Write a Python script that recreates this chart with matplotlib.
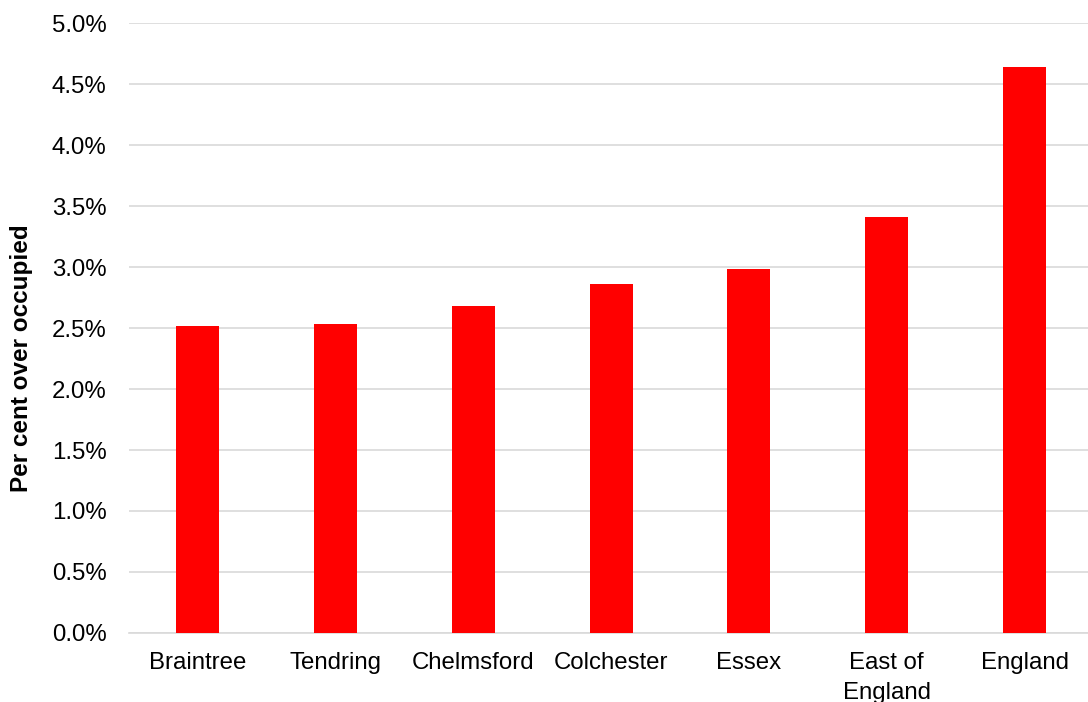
import numpy as np
import matplotlib.pyplot as plt
from matplotlib.ticker import FuncFormatter

# values
areas = ['Braintree', 'Tendring', 'Chelmsford', 'Colchester', 'Essex',
         'East of\nEngland', 'England']
over_occupied = [2.52, 2.53, 2.68, 2.86, 2.98, 3.41, 4.64]
y_ticks = [0.0, 0.5, 1.0, 1.5, 2.0, 2.5, 3.0, 3.5, 4.0, 4.5, 5.0]

plt.rcParams['font.family'] = ['Liberation Sans', 'DejaVu Sans']

fig = plt.figure(figsize=(10.88, 7.02), dpi=100)
ax = fig.add_axes([0.1182, 0.0983, 0.8868, 0.8689])

x = np.arange(len(areas))
ax.bar(x, over_occupied, width=0.312, color='#ff0000', zorder=3)

ax.set_xlim(-0.5, len(areas) - 0.5)
ax.set_ylim(0, 5.0)
ax.set_yticks(y_ticks)
ax.yaxis.set_major_formatter(FuncFormatter(lambda v, p: '%.1f%%' % v))
ax.set_xticks(x)
ax.set_xticklabels(areas, linespacing=1.45)

ax.grid(axis='y', color='#d9d9d9', linewidth=1.2, zorder=0)
for s in ['top', 'right', 'left']:
    ax.spines[s].set_visible(False)
ax.spines['bottom'].set_color('#d9d9d9')
ax.spines['bottom'].set_linewidth(1.2)

ax.tick_params(axis='both', length=0, labelsize=17.3, colors='black')
ax.tick_params(axis='y', pad=16)
ax.tick_params(axis='x', pad=14)

ax.set_ylabel('Per cent over occupied', fontsize=17.5, fontweight='bold')
ax.yaxis.set_label_coords(-0.099, 0.451)

fig.savefig('out.png', dpi=100)
